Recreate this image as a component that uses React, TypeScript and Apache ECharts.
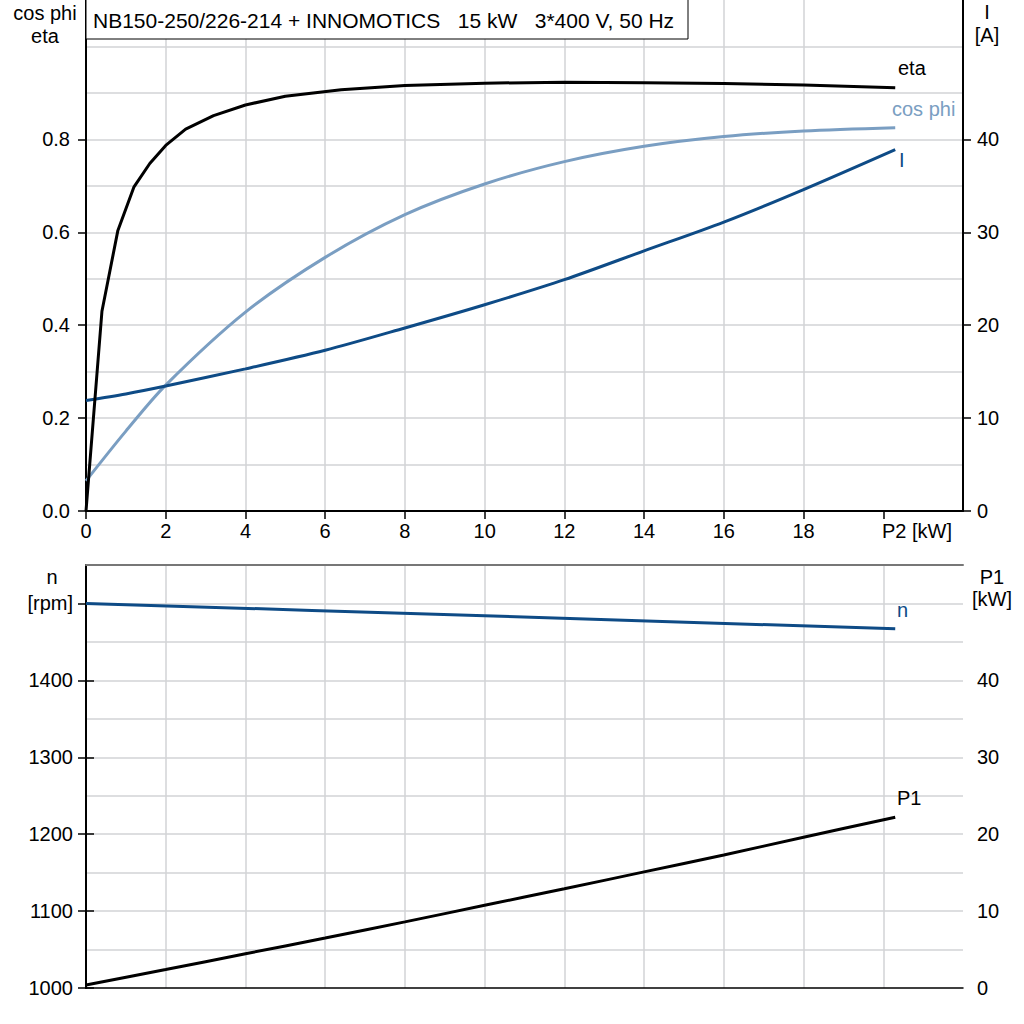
import React, { useEffect, useRef } from "react";
import * as echarts from "echarts";

// ---- data ----
const etaP2 = [0, 0.4, 0.8, 1.2, 1.6, 2.0, 2.5, 3.2, 4.0, 5.0, 6.4, 8, 10, 12, 14, 16, 18, 20.3];
const etaVals = [0, 0.43, 0.604, 0.697, 0.748, 0.787, 0.822, 0.851, 0.874, 0.893, 0.907, 0.916, 0.921, 0.923, 0.922, 0.92, 0.917, 0.911];

const curveP2 = [0, 1, 2, 4, 6, 8, 10, 12, 14, 16, 18, 20.3];
const cosVals = [0.065, 0.172, 0.271, 0.428, 0.546, 0.638, 0.704, 0.752, 0.785, 0.806, 0.818, 0.825];
const currentVals = [11.9, 12.6, 13.45, 15.3, 17.3, 19.7, 22.2, 24.9, 28.0, 31.1, 34.6, 38.9];

const nP2 = [0, 10, 20.3];
const nVals = [1500, 1484, 1467];

const p1P2 = [0, 2, 4, 6, 8, 10, 12, 14, 16, 18, 20.3];
const p1Vals = [0.4, 2.4, 4.45, 6.5, 8.6, 10.75, 12.9, 15.1, 17.3, 19.6, 22.2];

const xTickValues = [0, 2, 4, 6, 8, 10, 12, 14, 16, 18, 20];
const xLabelValues = [0, 2, 4, 6, 8, 10, 12, 14, 16, 18];
const cosTicks = [0, 0.2, 0.4, 0.6, 0.8];
const ampTicks = [0, 10, 20, 30, 40];
const rpmTicks = [1000, 1100, 1200, 1300, 1400, 1500];
const kwTicks = [0, 10, 20, 30, 40];

const titleText = "NB150-250/226-214 + INNOMOTICS   15 kW   3*400 V, 50 Hz";

const zip = (xs: number[], ys: number[]) => xs.map((x, i) => [x, ys[i]]);

const FONT = "Liberation Sans";
const FS = 20;
const GRID_COLOR = "#d2d3d6";
const COS_COLOR = "#7a9ec2";
const DARK_BLUE = "#0e4b86";

export default function App() {
  const ref = useRef<HTMLDivElement>(null);

  useEffect(() => {
    if (!ref.current) return;
    const chart = echarts.init(ref.current, undefined, { renderer: "svg" });

    const axisLine = { show: true, lineStyle: { color: "#000", width: 2 } };
    const tick = (vals: number[]) => ({
      show: true,
      customValues: vals,
      length: 8,
      lineStyle: { color: "#000", width: 1.5 },
    });
    const label = (vals: number[], fmt?: (v: number) => string, margin = 14) => ({
      show: true,
      customValues: vals,
      fontSize: FS,
      color: "#000",
      fontFamily: FONT,
      margin,
      formatter: fmt,
    });
    const split = { show: true, lineStyle: { color: GRID_COLOR, width: 1.5 } };

    const txt = (t: string, x: number, y: number, align: string, color = "#000", size = FS) => ({
      type: "text",
      x,
      y,
      z: 20,
      style: {
        text: t,
        fill: color,
        fontSize: size,
        fontFamily: FONT,
        align,
        verticalAlign: "middle",
      },
    });

    chart.setOption({
      animation: false,
      textStyle: { fontFamily: FONT },
      grid: [
        { left: 86, top: 0, width: 877, height: 511 },
        { left: 86, top: 565, width: 877, height: 423 },
      ],
      xAxis: [
        {
          gridIndex: 0,
          type: "value",
          position: "bottom",
          min: 0,
          max: 22,
          interval: 2,
          axisLine,
          axisTick: tick(xTickValues),
          axisLabel: label(xLabelValues, (v: number) => String(v), 10),
          splitLine: { ...split, showMaxLine: false },
        },
        {
          gridIndex: 1,
          type: "value",
          position: "bottom",
          min: 0,
          max: 22,
          interval: 2,
          axisLine: { show: true, lineStyle: { color: "#000", width: 1.5 } },
          axisTick: { show: false },
          axisLabel: { show: false },
          splitLine: { ...split, showMaxLine: false },
        },
        {
          gridIndex: 1,
          type: "value",
          position: "top",
          min: 0,
          max: 22,
          axisLine: { show: true, lineStyle: { color: "#777", width: 2 } },
          axisTick: { show: false },
          axisLabel: { show: false },
          splitLine: { show: false },
        },
      ],
      yAxis: [
        {
          gridIndex: 0,
          type: "value",
          position: "left",
          min: 0,
          max: 1.1,
          interval: 0.1,
          axisLine,
          axisTick: tick(cosTicks),
          axisLabel: label(cosTicks, (v: number) => v.toFixed(1), 16),
          splitLine: { show: false },
        },
        {
          gridIndex: 0,
          type: "value",
          position: "right",
          min: 0,
          max: 55,
          interval: 5,
          axisLine,
          axisTick: tick(ampTicks),
          axisLabel: label(ampTicks, (v: number) => String(v), 14),
          splitLine: { show: false },
        },
        {
          gridIndex: 0,
          type: "value",
          position: "left",
          min: 0,
          max: 1.1,
          interval: 0.1,
          axisLine: { show: false },
          axisTick: { show: false },
          axisLabel: { show: false },
          splitLine: { ...split, showMaxLine: false, showMinLine: false },
          z: 0,
        },
        {
          gridIndex: 1,
          type: "value",
          position: "left",
          min: 1000,
          max: 1550,
          interval: 50,
          axisLine,
          axisTick: tick(rpmTicks),
          axisLabel: label(rpmTicks, (v: number) => (v === 1500 ? "[rpm]" : String(v)), 13),
          splitLine: { show: false },
        },
        {
          gridIndex: 1,
          type: "value",
          position: "right",
          min: 0,
          max: 55,
          interval: 5,
          axisLine,
          axisTick: tick(kwTicks),
          axisLabel: label(kwTicks, (v: number) => String(v), 14),
          splitLine: { show: false },
        },
        {
          gridIndex: 1,
          type: "value",
          position: "left",
          min: 1000,
          max: 1550,
          interval: 50,
          axisLine: { show: false },
          axisTick: { show: false },
          axisLabel: { show: false },
          splitLine: { ...split, showMaxLine: false, showMinLine: false },
          z: 0,
        },
      ],
      series: [
        {
          name: "eta",
          type: "line",
          xAxisIndex: 0,
          yAxisIndex: 0,
          data: zip(etaP2, etaVals),
          symbol: "none",
          lineStyle: { color: "#000", width: 3 },
          z: 5,
        },
        {
          name: "cos phi",
          type: "line",
          xAxisIndex: 0,
          yAxisIndex: 0,
          data: zip(curveP2, cosVals),
          smooth: 0.3,
          symbol: "none",
          lineStyle: { color: COS_COLOR, width: 3 },
          z: 4,
        },
        {
          name: "I",
          type: "line",
          xAxisIndex: 0,
          yAxisIndex: 1,
          data: zip(curveP2, currentVals),
          smooth: 0.3,
          symbol: "none",
          lineStyle: { color: DARK_BLUE, width: 3 },
          z: 4,
        },
        {
          name: "n",
          type: "line",
          xAxisIndex: 1,
          yAxisIndex: 3,
          data: zip(nP2, nVals),
          smooth: 0.3,
          symbol: "none",
          lineStyle: { color: DARK_BLUE, width: 3 },
        },
        {
          name: "P1",
          type: "line",
          xAxisIndex: 1,
          yAxisIndex: 4,
          data: zip(p1P2, p1Vals),
          smooth: 0.3,
          symbol: "none",
          lineStyle: { color: "#000", width: 3 },
        },
      ],
      graphic: [
        {
          type: "rect",
          z: 19,
          shape: { x: 86, y: -1, width: 602, height: 40 },
          style: { fill: "#fff", stroke: "#000", lineWidth: 1 },
        },
        txt(titleText, 93, 20, "left", "#000", 21),
        txt("cos phi", 45, 13, "center"),
        txt("eta", 45, 36, "center"),
        txt("I", 987, 12, "center"),
        txt("[A]", 987, 35, "center"),
        txt("P2 [kW]", 882, 531, "left"),
        txt("n", 52, 577, "center"),
        txt("P1", 992, 577, "center"),
        txt("[kW]", 992, 599, "center"),
        txt("eta", 898, 68, "left"),
        txt("cos phi", 892, 109, "left", COS_COLOR),
        txt("I", 899, 160, "left", DARK_BLUE),
        txt("n", 897, 610, "left", DARK_BLUE),
        txt("P1", 897, 798, "left"),
      ],
    });

    return () => chart.dispose();
  }, []);

  return (
    <div
      ref={ref}
      style={{ position: "fixed", left: 0, top: 0, width: 1024, height: 1024, background: "#fff" }}
    />
  );
}
